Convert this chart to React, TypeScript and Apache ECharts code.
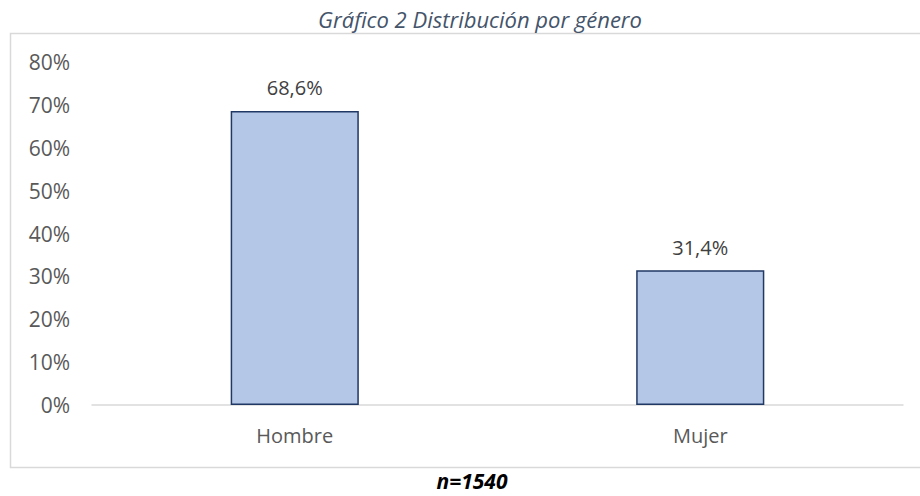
import React, { useEffect, useRef } from "react";
import * as echarts from "echarts";

const categories = ["Hombre", "Mujer"];
const values = [68.6, 31.4];
const titleText = "Gráfico 2 Distribución por género";
const noteText = "n=1540";

const FONT = "'Open Sans', 'DejaVu Sans', sans-serif";

export default function App() {
  const ref = useRef<HTMLDivElement>(null);
  useEffect(() => {
    if (!ref.current) return;
    const chart = echarts.init(ref.current, undefined, { renderer: "svg" });
    chart.setOption({
      animation: false,
      backgroundColor: "#ffffff",
      title: {
        text: titleText,
        left: 475,
        textAlign: "center",
        top: 3,
        textStyle: {
          fontFamily: FONT,
          fontStyle: "italic",
          fontWeight: "normal",
          fontSize: 22,
          color: "#44546A",
        },
      },
      graphic: [
        {
          type: "rect",
          shape: { x: 10.5, y: 33.5, width: 920, height: 434 },
          style: { fill: "none", stroke: "#D9D9D9", lineWidth: 1.5 },
          silent: true,
        },
        {
          type: "text",
          x: 472,
          y: 481,
          style: {
            text: noteText,
            fontFamily: FONT,
            fontStyle: "italic",
            fontWeight: "bold",
            fontSize: 21,
            fill: "#000000",
            align: "center",
            verticalAlign: "middle",
          },
        },
      ],
      grid: { left: 92, right: 17, top: 62, bottom: 91 },
      xAxis: {
        type: "category",
        data: categories,
        axisLine: { show: true, lineStyle: { color: "#D9D9D9", width: 1.5 } },
        axisTick: { show: false },
        axisLabel: {
          fontFamily: FONT,
          fontSize: 20,
          color: "#595959",
          margin: 20,
        },
      },
      yAxis: {
        type: "value",
        min: 0,
        max: 80,
        interval: 10,
        axisLine: { show: false },
        axisTick: { show: false },
        splitLine: { show: false },
        axisLabel: {
          fontFamily: FONT,
          fontSize: 21,
          color: "#595959",
          margin: 22,
          formatter: (v: number) => `${v}%`,
        },
      },
      series: [
        {
          type: "bar",
          data: values,
          barWidth: "31.6%",
          itemStyle: {
            color: "#B4C7E7",
            borderColor: "#203864",
            borderWidth: 1.5,
          },
          label: {
            show: true,
            position: "top",
            distance: 13,
            fontFamily: FONT,
            fontSize: 20,
            color: "#404040",
            formatter: (p: any) => `${p.value.toFixed(1).replace(".", ",")}%`,
          },
        },
      ],
    });
    return () => chart.dispose();
  }, []);
  return (
    <div
      ref={ref}
      style={{ position: "fixed", left: 0, top: 0, width: 920, height: 496 }}
    />
  );
}
